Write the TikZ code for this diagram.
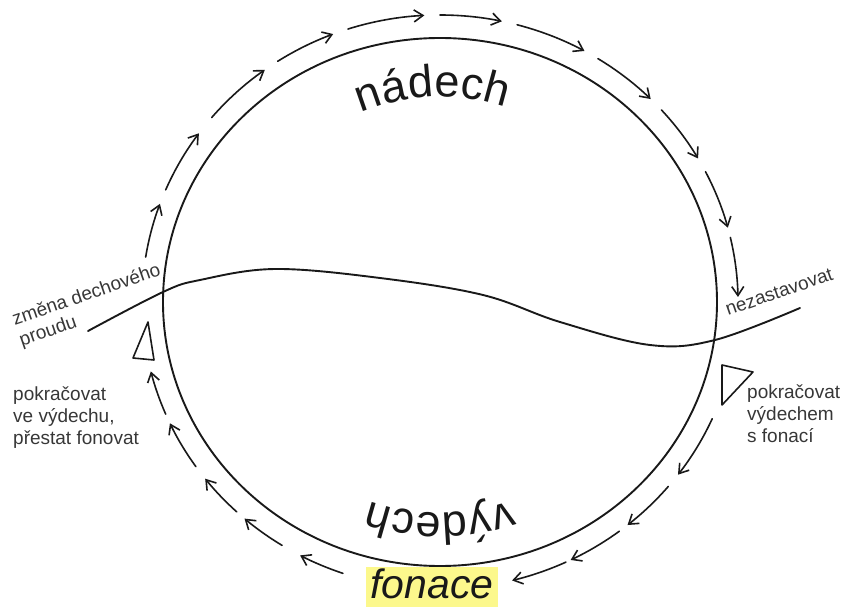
\documentclass[tikz,border=0pt]{standalone}
\usepackage{fontspec}
\setmainfont{Liberation Sans}
\usepackage{xcolor}
\usepackage{tikz}
\usetikzlibrary{arrows.meta,decorations.text}
\definecolor{ink}{RGB}{25,25,25}
\definecolor{note}{RGB}{55,55,55}
\definecolor{hilite}{RGB}{252,248,140}
\newcommand{\bigword}{\fontsize{45}{48}\selectfont}

\begin{document}
\begin{tikzpicture}[x=1pt,y=1pt,>={Straight Barb[length=9pt,width=12pt]},
     line cap=round,line join=round,
     ring/.style={draw=ink,line width=1.9pt},
     flow/.style={draw=ink,line width=1.6pt,->},
     tri/.style={draw=ink,line width=1.6pt},
     lbl/.style={text=note,font=\fontsize{19}{22}\selectfont,inner sep=0pt,align=left},
     arcword/.style={decorate,decoration={text along path,text align=center,text color=ink,text={|\bigword|#1}}}]
  \useasboundingbox (-440,-305) rectangle (403,302);
  \draw[ring] (0,0) ellipse [x radius=277,y radius=264];
  \draw[ring] plot[smooth,tension=0.6] coordinates {(-352,-29) (-277,10) (-240,22) (-165,33) (-60,24)
    (43,7) (120,-20) (210,-43) (275,-38) (360,-6)};
  % flow arrows round the ring
  \foreach \s/\e in {171/160,157/144,140/126,123/111,108/93,90/78,75/61,58/45,42/30,27/15,13/1,
                     -24/-37,-40/-51,-53/-64,-65/-76,
                     -109/-118,-122/-131,-133/-142,-145/-155,-157/-166}
    \draw[flow] (\s:298 and 287) arc[start angle=\s,end angle=\e,x radius=298,y radius=287];
  \draw[tri] (-292,-20) -- (-307,-56) -- (-286,-58) -- cycle;
  \draw[tri] (282,-63) -- (313,-70) -- (282,-103) -- cycle;
  \path[arcword=nádech] (132:205) arc[start angle=132,end angle=52,radius=205];
  \path[arcword=výdech] (-50:211) arc[start angle=-50,end angle=-130,radius=211];
  \node[lbl,rotate=19,anchor=north west] (zmena) at (-430,-10) {změna dechového\\proudu};
  \node[lbl,rotate=19,anchor=base west] (nezast) at (288,-14) {nezastavovat};
  \node[lbl,anchor=north west] (levy) at (-427,-84) {pokračovat\\ve výdechu,\\přestat fonovat};
  \node[lbl,anchor=north west] (pravy) at (307,-82) {pokračovat\\výdechem\\s fonací};
  \node[fill=hilite,text=ink,font=\fontsize{41}{44}\selectfont\itshape,anchor=base,
        inner xsep=4pt,inner ysep=1pt,text depth=10pt] (fonace) at (-8,-296) {fonace};
\end{tikzpicture}
\end{document}
